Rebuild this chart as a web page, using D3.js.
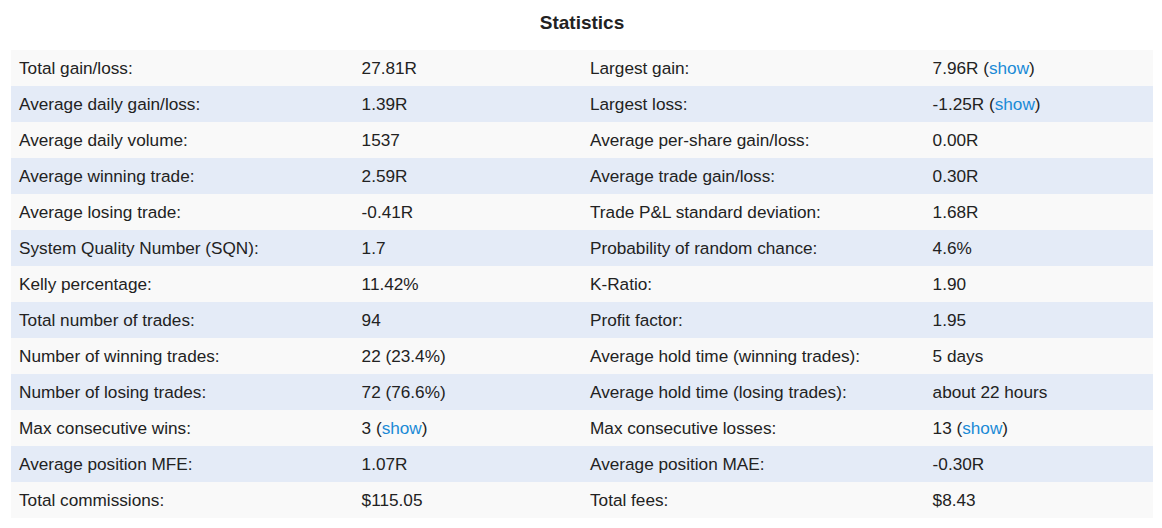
<!DOCTYPE html>
<html><head><meta charset="utf-8">
<script src="https://cdn.jsdelivr.net/npm/d3@7/dist/d3.min.js"></script>
<style>
html,body{margin:0;padding:0;background:#fff;}
svg{display:block;font-family:"Liberation Sans",Arial,sans-serif;}
</style></head>
<body><svg id="c" width="1162" height="528"></svg>
<script>
const title = "Statistics";
const leftLabels = ["Total gain/loss:","Average daily gain/loss:","Average daily volume:","Average winning trade:","Average losing trade:","System Quality Number (SQN):","Kelly percentage:","Total number of trades:","Number of winning trades:","Number of losing trades:","Max consecutive wins:","Average position MFE:","Total commissions:"];
const leftValues = ["27.81R","1.39R","1537","2.59R","-0.41R","1.7","11.42%","94","22 (23.4%)","72 (76.6%)","3","1.07R","$115.05"];
const leftShow = [false,false,false,false,false,false,false,false,false,false,true,false,false];
const rightLabels = ["Largest gain:","Largest loss:","Average per-share gain/loss:","Average trade gain/loss:","Trade P&L standard deviation:","Probability of random chance:","K-Ratio:","Profit factor:","Average hold time (winning trades):","Average hold time (losing trades):","Max consecutive losses:","Average position MAE:","Total fees:"];
const rightValues = ["7.96R","-1.25R","0.00R","0.30R","1.68R","4.6%","1.90","1.95","5 days","about 22 hours","13","-0.30R","$8.43"];
const rightShow = [true,true,false,false,false,false,false,false,false,false,true,false,false];
const columnStarts = [0,0.3,0.5,0.8];

const svg = d3.select("#c");
const W = 1162;
const x = d3.scaleLinear().domain([0,1]).range([11,1153]);
const y = d3.scaleBand().domain(d3.range(leftLabels.length)).range([50,518]);
const pad = 8;

svg.append("text").attr("x", W/2+1).attr("y", 22).attr("text-anchor","middle")
  .attr("dominant-baseline","central").attr("font-weight","bold").attr("font-size",19)
  .attr("fill","#222").text(title);

const rows = leftLabels.map((l,i)=>({i, cells:[
  {t:l}, {t:leftValues[i], show:leftShow[i]}, {t:rightLabels[i]}, {t:rightValues[i], show:rightShow[i]}
]}));

const g = svg.selectAll("g.row").data(rows).join("g").attr("class","row");
g.append("rect").attr("x", x(0)).attr("width", x(1)-x(0))
  .attr("y", d=>y(d.i)).attr("height", y.bandwidth())
  .attr("fill", d=> d.i%2===0 ? "#f9f9f9" : "#e4ebf7");

g.each(function(d){
  const row = d3.select(this);
  d.cells.forEach((c,ci)=>{
    const t = row.append("text").attr("x", x(columnStarts[ci])+pad)
      .attr("y", y(d.i)+y.bandwidth()/2).attr("dominant-baseline","central")
      .attr("font-size",17.2).attr("fill","#222");
    t.append("tspan").text(c.t);
    if(c.show){
      t.append("tspan").text(" (");
      t.append("tspan").attr("fill","#1a8ad6").text("show");
      t.append("tspan").text(")");
    }
  });
});
</script></body></html>
